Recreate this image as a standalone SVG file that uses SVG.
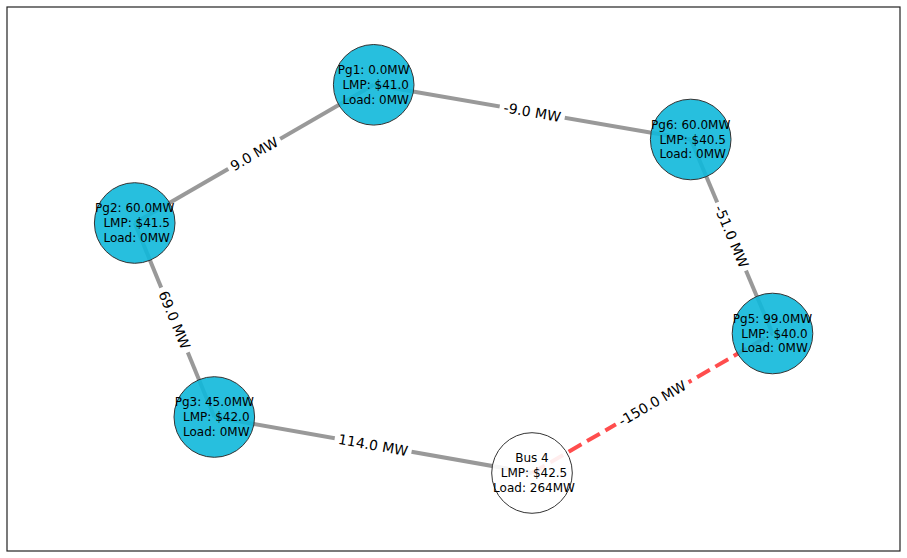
<svg xmlns="http://www.w3.org/2000/svg" width="907" height="558" viewBox="0 0 907 558">
<style>
.frame{fill:#fff;stroke:#222;stroke-width:1.2}
.edge{stroke:#999;stroke-width:4;fill:none}
.hot{stroke:#ff4d4d;stroke-width:4;fill:none;stroke-dasharray:14.8 6.4}
.gen{fill:#10b8da;fill-opacity:0.9;stroke:#333;stroke-width:1}
.load{fill:#fff;fill-opacity:0.9;stroke:#333;stroke-width:1}
.nt{font-family:"DejaVu Sans",sans-serif;font-size:12px;fill:#000;text-anchor:middle;dominant-baseline:central}
.et{font-family:"DejaVu Sans",sans-serif;font-size:14px;fill:#000;text-anchor:middle;dominant-baseline:central}
.eb{fill:#fff}
</style>
<rect class="frame" x="7" y="7" width="893" height="544"/>
<g id="connectors">
<line class="edge" x1="373.7" y1="84.8" x2="134.7" y2="223"/>
<line class="edge" x1="373.7" y1="84.8" x2="690.7" y2="139.5"/>
<line class="edge" x1="690.7" y1="139.5" x2="772.5" y2="333.5"/>
<line class="edge" x1="134.7" y1="223" x2="214.3" y2="417"/>
<line class="edge" x1="214.3" y1="417" x2="532" y2="473"/>
<line class="hot" x1="532" y1="473" x2="772.5" y2="333.5"/>
<g transform="translate(254.2,153.9) rotate(-30.04)"><rect class="eb" x="-30" y="-10" width="60" height="20"/><text class="et" x="0" y="0">9.0 MW</text></g>
<g transform="translate(532.2,112.15) rotate(9.79)"><rect class="eb" x="-33" y="-10" width="66" height="20"/><text class="et" x="0" y="0">-9.0 MW</text></g>
<g transform="translate(731.6,236.5) rotate(67.14)"><rect class="eb" x="-37" y="-10" width="74" height="20"/><text class="et" x="0" y="0">-51.0 MW</text></g>
<g transform="translate(174.5,320) rotate(67.69)"><rect class="eb" x="-35" y="-10" width="70" height="20"/><text class="et" x="0" y="0">69.0 MW</text></g>
<g transform="translate(373.15,445) rotate(10.0)"><rect class="eb" x="-39" y="-10" width="78" height="20"/><text class="et" x="0" y="0">114.0 MW</text></g>
<g transform="translate(652.25,403.25) rotate(-30.11)"><rect class="eb" x="-42" y="-10" width="84" height="20"/><text class="et" x="0" y="0">-150.0 MW</text></g>
</g>
<g id="Pg1"><circle class="gen" cx="373.7" cy="84.8" r="40.3"/><text class="nt"><tspan x="373.7" y="70.1">Pg1: 0.0MW</tspan><tspan x="375.7" y="84.8">LMP: $41.0</tspan><tspan x="375.7" y="99.5">Load: 0MW</tspan></text></g>
<g id="Pg6"><circle class="gen" cx="690.7" cy="139.5" r="40.3"/><text class="nt"><tspan x="690.7" y="124.8">Pg6: 60.0MW</tspan><tspan x="692.7" y="139.5">LMP: $40.5</tspan><tspan x="692.7" y="154.2">Load: 0MW</tspan></text></g>
<g id="Pg2"><circle class="gen" cx="134.7" cy="223" r="40.3"/><text class="nt"><tspan x="134.7" y="208.3">Pg2: 60.0MW</tspan><tspan x="136.7" y="223">LMP: $41.5</tspan><tspan x="136.7" y="237.7">Load: 0MW</tspan></text></g>
<g id="Pg5"><circle class="gen" cx="772.5" cy="333.5" r="40.3"/><text class="nt"><tspan x="772.5" y="318.8">Pg5: 99.0MW</tspan><tspan x="774.5" y="333.5">LMP: $40.0</tspan><tspan x="774.5" y="348.2">Load: 0MW</tspan></text></g>
<g id="Pg3"><circle class="gen" cx="214.3" cy="417" r="40.3"/><text class="nt"><tspan x="214.3" y="402.3">Pg3: 45.0MW</tspan><tspan x="216.3" y="417">LMP: $42.0</tspan><tspan x="216.3" y="431.7">Load: 0MW</tspan></text></g>
<g id="Bus4"><circle class="load" cx="532" cy="473" r="40.3"/><text class="nt"><tspan x="532" y="458.3">Bus 4</tspan><tspan x="534" y="473">LMP: $42.5</tspan><tspan x="534" y="487.7">Load: 264MW</tspan></text></g>
</svg>
